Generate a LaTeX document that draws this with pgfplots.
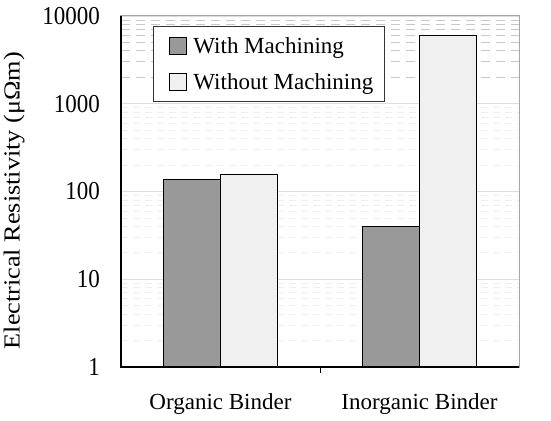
\documentclass[border=0pt]{standalone}
\usepackage{pgfplots}
\pgfplotsset{compat=1.18}
\usepackage{fontspec}
\setmainfont{Liberation Serif}
\definecolor{darkbar}{HTML}{999999}
\definecolor{lightbar}{HTML}{F0F0F0}
\definecolor{gridc}{HTML}{DDDDDD}
\definecolor{minorc}{HTML}{EEEEEE}
\definecolor{topminor}{HTML}{C8C8C8}
\begin{document}
\begin{tikzpicture}
\path[use as bounding box] (-121pt,-53pt) rectangle (430pt,367pt);
\begin{axis}[
  at={(0pt,0pt)}, anchor=origin,
  scale only axis,
  width=398pt, height=351pt,
  xmin=0, xmax=2,
  ymode=log, ymin=1, ymax=10000,
  log origin=infty,
  ybar=0pt, bar width=57pt,
  xtick={0.5,1.5},
  xticklabels={Organic Binder, Inorganic Binder},
  xtick style={draw=none},
  extra x ticks={1},
  extra x tick labels={},
  extra x tick style={xtick style={draw=black, line width=1pt}, major tick length=6pt, grid=none},
  ytick={1,10,100,1000,10000},
  yticklabels={1,10,100,1000,10000},
  minor ytick={2,3,4,5,6,7,8,9,20,30,40,50,60,70,80,90,200,300,400,500,600,700,800,900},
  extra y ticks={2000,3000,4000,5000,6000,7000,8000,9000},
  extra y tick labels={},
  extra y tick style={ytick style={draw=none}, major grid style={topminor, dash pattern=on 9pt off 6pt, line width=0.9pt}},
  ytick style={draw=none},
  minor tick length=0pt,
  tick pos=left,
  ymajorgrids, yminorgrids,
  major grid style={gridc, line width=0.8pt},
  minor grid style={minorc, dash pattern=on 7pt off 5pt, line width=0.8pt},
  axis line style={draw=black!35, line width=1pt},
  yticklabel style={font=\fontsize{23}{27}\selectfont, yscale=1.12, anchor=east, inner sep=0pt, xshift=-21pt},
  xticklabel style={font=\fontsize{23}{27}\selectfont, anchor=north, inner sep=0pt, yshift=-22pt},
  ylabel={Electrical Resistivity (μΩm)},
  ylabel style={at={(axis description cs:-0.2688,0.474)}, anchor=center, rotate=0, font=\fontsize{23}{27}\selectfont, xscale=1.14},
  legend style={at={(axis description cs:0.080,0.9715)}, anchor=north west,
    draw=black!80, line width=1.2pt, fill=white,
    font=\fontsize{23}{27}\selectfont,
    inner xsep=9pt, inner ysep=9pt,
    row sep=14pt,
    cells={anchor=west}},
  legend image code/.code={\path (-7pt,0pt); \draw[#1, draw=black, line width=1pt] (0pt,-8.5pt) rectangle (17pt,8.5pt); \path (21pt,0pt);},
  after end axis/.code={\draw[black, line width=1.3pt] (rel axis cs:0,1) -- (rel axis cs:0,0) -- (rel axis cs:1,0);},
]
\addplot[fill=darkbar, draw=black, line width=1pt] coordinates {(0.5,137) (1.5,40)};
\addplot[fill=lightbar, draw=black, line width=1pt] coordinates {(0.5,156) (1.5,6030)};
\legend{With Machining, Without Machining}
\end{axis}
\end{tikzpicture}
\end{document}
